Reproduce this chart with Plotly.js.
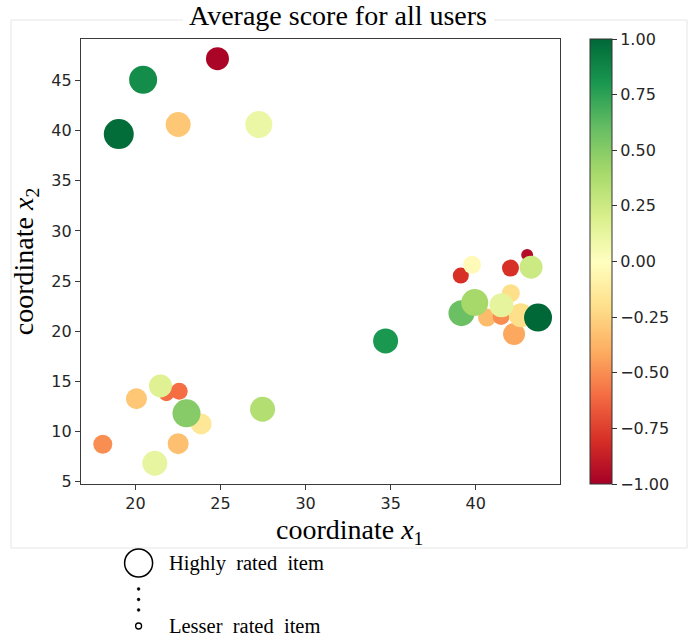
<!DOCTYPE html>
<html>
<head>
<meta charset="utf-8">
<script src="https://cdn.plot.ly/plotly-3.0.1.min.js"></script>
<style>html,body{margin:0;padding:0;background:#fff;}#chart{width:700px;height:643px;}</style>
</head>
<body>
<div id="chart"></div>
<script>
// ---- data ----
const x1 = [19.02, 20.45, 24.82, 22.51, 27.25, 34.7,
            21.82, 22.57, 21.47, 20.06, 23.86, 23.0, 27.47, 18.08, 22.51, 21.14,
            43.02, 39.12, 39.78, 42.04, 43.25, 42.06, 40.66, 41.49, 42.25, 42.65, 39.16, 39.94, 41.51, 43.66];
const x2 = [39.65, 45.07, 47.17, 40.61, 40.61, 19.03,
            13.82, 14.02, 14.55, 13.28, 10.76, 11.82, 12.22, 8.73, 8.79, 6.84,
            27.61, 25.55, 26.62, 26.29, 26.38, 23.79, 21.36, 21.46, 19.73, 21.6, 21.8, 22.86, 22.6, 21.36];
const score = [0.98, 0.85, -0.98, -0.3, 0.1, 0.8,
               -0.6, -0.6, 0.17, -0.3, -0.15, 0.5, 0.35, -0.5, -0.33, 0.12,
               -0.95, -0.8, -0.03, -0.8, 0.25, -0.2, -0.35, -0.5, -0.42, -0.2, 0.58, 0.4, 0.13, 1.0];
const rating = [30, 28, 23, 25, 27, 25,
                16, 17, 23, 21, 21, 28, 25, 19, 21, 25,
                12, 16, 18, 17, 23, 18, 18, 17, 22, 24, 26, 27, 24, 28];
const xTicks = [20, 25, 30, 35, 40];
const yTicks = [5, 10, 15, 20, 25, 30, 35, 40, 45];
const cbTicks = [-1, -0.75, -0.5, -0.25, 0, 0.25, 0.5, 0.75, 1];

// RdYlGn colormap
const RdYlGn = ['#a50026','#d73027','#f46d43','#fdae61','#fee08b','#ffffbf','#d9ef8b','#a6d96a','#66bd63','#1a9850','#006837'];
const cscale = RdYlGn.map((c,i)=>[i/(RdYlGn.length-1), c]);

// ---- layout helpers (pixel -> paper) ----
const W = 700, H = 643, L = 81, R = 140, T = 39, B = 159;
const PW = W - L - R, PH = H - T - B;
const px = p => (p - L) / PW;
const py = p => (H - B - p) / PH;

const tickFont = {family: 'DejaVu Sans', size: 16, color: '#262626'};
const serif = 'Liberation Serif, Times New Roman, serif';

const trace = {
  type: 'scatter', mode: 'markers',
  x: x1, y: x2,
  marker: {
    size: rating, color: score, colorscale: cscale, cmin: -1, cmax: 1,
    opacity: 1, line: {width: 0},
    showscale: true,
    colorbar: {
      x: px(590), xanchor: 'left', xpad: 0, ypad: 0,
      y: 0.5, yanchor: 'middle', len: 1, lenmode: 'fraction',
      thickness: 22, thicknessmode: 'pixels',
      outlinewidth: 1, outlinecolor: '#333',
      tickmode: 'array', tickvals: cbTicks, tickformat: '.2f',
      ticks: 'outside', ticklen: 5, tickwidth: 1, tickcolor: '#333',
      tickfont: tickFont
    }
  },
  hoverinfo: 'x+y'
};

const borderColor = '#e6e6e6';
const legX = 138.6, bigY = 563, smallY = 626;
const dotY = [589, 599.5, 610];
const shapes = [
  // faint figure frame
  {type:'line', xref:'paper', yref:'paper', x0:px(11), x1:px(11), y0:py(20), y1:py(548), line:{color:borderColor, width:1}},
  {type:'line', xref:'paper', yref:'paper', x0:px(687), x1:px(687), y0:py(20), y1:py(548), line:{color:borderColor, width:1}},
  {type:'line', xref:'paper', yref:'paper', x0:px(11), x1:px(687), y0:py(548), y1:py(548), line:{color:borderColor, width:1}},
  {type:'line', xref:'paper', yref:'paper', x0:px(11), x1:px(183), y0:py(20), y1:py(20), line:{color:borderColor, width:1}},
  {type:'line', xref:'paper', yref:'paper', x0:px(494), x1:px(687), y0:py(20), y1:py(20), line:{color:borderColor, width:1}},
  // size legend
  {type:'circle', xref:'paper', yref:'paper', xsizemode:'pixel', ysizemode:'pixel',
   xanchor:px(legX), yanchor:py(bigY), x0:-14, x1:14, y0:-14, y1:14, line:{color:'#000', width:1.5}},
  ...dotY.map(d => ({type:'circle', xref:'paper', yref:'paper', xsizemode:'pixel', ysizemode:'pixel',
   xanchor:px(legX), yanchor:py(d), x0:-1.4, x1:1.4, y0:-1.4, y1:1.4, fillcolor:'#000', line:{color:'#000', width:0.5}})),
  {type:'circle', xref:'paper', yref:'paper', xsizemode:'pixel', ysizemode:'pixel',
   xanchor:px(legX), yanchor:py(smallY), x0:-3, x1:3, y0:-3, y1:3, line:{color:'#000', width:1.3}}
];

const annotations = [
  {xref:'paper', yref:'paper', x:px(349), y:py(531), xanchor:'center', yanchor:'middle', showarrow:false,
   text:'coordinate <i>x</i><sub>1</sub>', font:{family:serif, size:28, color:'#000'}},
  {xref:'paper', yref:'paper', x:px(167), y:py(bigY), xanchor:'left', yanchor:'middle', showarrow:false,
   text:'Highly  rated  item', font:{family:serif, size:20.5, color:'#000'}},
  {xref:'paper', yref:'paper', x:px(167), y:py(smallY), xanchor:'left', yanchor:'middle', showarrow:false,
   text:'Lesser  rated  item', font:{family:serif, size:20.5, color:'#000'}}
];

const axisCommon = {
  showgrid: false, zeroline: false, showline: true, mirror: true,
  linecolor: '#3a3a3a', linewidth: 1.2,
  ticks: 'outside', ticklen: 5, tickwidth: 1, tickcolor: '#3a3a3a',
  tickfont: tickFont, tickmode: 'array'
};

const layout = {
  width: W, height: H,
  margin: {l: L, r: R, t: T, b: B, pad: 0},
  paper_bgcolor: '#fff', plot_bgcolor: '#fff',
  showlegend: false,
  title: {text: 'Average score for all users', font: {family: serif, size: 28, color: '#000'},
          x: px(338), xref: 'paper', xanchor: 'center', y: 1 - 15/H, yref: 'container', yanchor: 'middle'},
  xaxis: Object.assign({}, axisCommon, {range: [16.8, 44.95], tickvals: xTicks}),
  yaxis: Object.assign({}, axisCommon, {range: [4.77, 49.13], tickvals: yTicks,
          title: {text: 'coordinate <i>x</i><sub>2</sub>', font: {family: serif, size: 28, color: '#000'}, standoff: 9}}),
  shapes: shapes,
  annotations: annotations
};

Plotly.newPlot('chart', [trace], layout, {displayModeBar: false, staticPlot: true});
</script>
</body>
</html>
